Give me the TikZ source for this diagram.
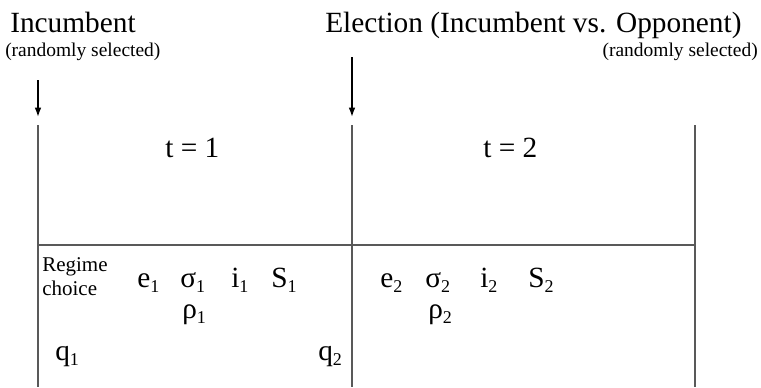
\documentclass[tikz,border=0pt]{standalone}
\usepackage{fontspec}
\setmainfont{Liberation Serif}
\usetikzlibrary{arrows.meta}
\newcommand{\idx}[1]{\raisebox{-0.2em}{\fontsize{13.5}{14}\selectfont #1}}
\tikzset{
  big/.style={font=\fontsize{22}{24}\selectfont,inner sep=0pt,anchor=base west},
  small/.style={font=\fontsize{14.6}{16}\selectfont,inner sep=0pt,anchor=base west},
  regime/.style={font=\fontsize{15.75}{17}\selectfont,inner sep=0pt,anchor=base west},
  grid line/.style={black!65,line width=1pt},
  down arrow/.style={black,line width=1.1pt,-{Latex[length=7pt,width=5pt]}}
}
\begin{document}
\begin{tikzpicture}[x=0.75pt,y=-0.75pt]
\useasboundingbox (0,0) rectangle (761,387);
% headings
\node[big] (inc) at (10,32) {Incumbent};
\node[big] (elec) at (325,32) {Election (Incumbent vs. Opponent)};
\node[small] (rand1) at (5,56) {(randomly selected)};
\node[small,anchor=base east] (rand2) at (758,56) {(randomly selected)};
% periods
\coordinate (a1) at (38,80);
\coordinate (a2) at (352,57);
\coordinate (top1) at (38,125);
\coordinate (top2) at (352,125);
\coordinate (top3) at (695,125);
\coordinate (bot1) at (38,387);
\coordinate (bot2) at (352,387);
\coordinate (bot3) at (695,387);
\coordinate (mid1) at (38,245);
\coordinate (mid3) at (695,245);
\draw[grid line] (top1)--(bot1);
\draw[grid line] (top2)--(bot2);
\draw[grid line] (top3)--(bot3);
\draw[grid line] (mid1)--(mid3);
\draw[down arrow] (a1)--(38,117);
\draw[down arrow] (a2)--(352,117);
\node[big] (t1) at (165,157) {t = 1};
\node[big] (t2) at (483,157) {t = 2};
% variables, period 1
\node[regime] (reg) at (42,271) {Regime};
\node[regime] (cho) at (42,295) {choice};
\node[big] (e1) at (137,287) {e\idx{1}};
\node[big] (s1) at (180,287) {σ\idx{1}};
\node[big] (i1) at (231,287) {i\idx{1}};
\node[big] (S1) at (271,287) {S\idx{1}};
\node[big] (r1) at (182,318) {ρ\idx{1}};
\node[big] (q1) at (55,360) {q\idx{1}};
\node[big] (q2) at (318,360) {q\idx{2}};
% variables, period 2
\node[big] (e2) at (380,287) {e\idx{2}};
\node[big] (s2) at (425,287) {σ\idx{2}};
\node[big] (i2) at (480,287) {i\idx{2}};
\node[big] (S2) at (528,287) {S\idx{2}};
\node[big] (r2) at (428,318) {ρ\idx{2}};
\end{tikzpicture}
\end{document}
